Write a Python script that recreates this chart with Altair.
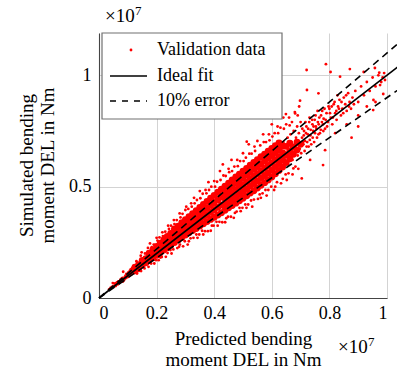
import altair as alt
import pandas as pd

# All values in units of 1e7 Nm (axes show the x10^7 multiplier)
x_ticks = [0, 0.2, 0.4, 0.6, 0.8, 1.0]
y_ticks = [0, 0.5, 1.0]
x_domain = [0, 1.0]
y_domain = [0, 1.19]

# dense core of the validation cloud: predicted value -> simulated values
core_band = {
    0.125: [0.124, 0.138],
    0.1375: [0.131, 0.150],
    0.150: [0.148, 0.168],
    0.1625: [0.158, 0.176],
    0.174: [0.170, 0.186, 0.201],
    0.187: [0.181, 0.199, 0.216],
    0.200: [0.192, 0.212, 0.231],
    0.2125: [0.203, 0.224, 0.246],
    0.225: [0.215, 0.238, 0.261],
    0.237: [0.226, 0.251, 0.276],
    0.249: [0.237, 0.264, 0.290],
    0.262: [0.249, 0.273, 0.297, 0.310],
    0.275: [0.261, 0.285, 0.306, 0.322],
    0.2875: [0.272, 0.296, 0.318, 0.338],
    0.300: [0.283, 0.306, 0.329, 0.351],
    0.3125: [0.293, 0.317, 0.341, 0.365],
    0.325: [0.303, 0.328, 0.353, 0.378],
    0.3375: [0.312, 0.339, 0.366, 0.392],
    0.350: [0.323, 0.351, 0.379, 0.406],
    0.3625: [0.333, 0.362, 0.391, 0.420],
    0.375: [0.343, 0.373, 0.403, 0.434],
    0.3875: [0.353, 0.385, 0.416, 0.448],
    0.400: [0.363, 0.396, 0.429, 0.461],
    0.4125: [0.373, 0.407, 0.441, 0.475],
    0.425: [0.383, 0.418, 0.453, 0.488],
    0.4375: [0.394, 0.420, 0.447, 0.474, 0.502],
    0.450: [0.405, 0.433, 0.461, 0.489, 0.516],
    0.4625: [0.415, 0.444, 0.473, 0.502, 0.530],
    0.475: [0.426, 0.455, 0.485, 0.515, 0.543],
    0.4875: [0.437, 0.466, 0.497, 0.527, 0.556],
    0.500: [0.448, 0.478, 0.509, 0.540, 0.569],
    0.5125: [0.459, 0.490, 0.521, 0.552, 0.582],
    0.525: [0.471, 0.503, 0.534, 0.565, 0.596],
    0.5375: [0.482, 0.514, 0.546, 0.578, 0.609],
    0.550: [0.494, 0.526, 0.558, 0.590, 0.621],
    0.5625: [0.506, 0.538, 0.570, 0.602, 0.634],
    0.575: [0.518, 0.550, 0.582, 0.615, 0.646],
    0.5875: [0.530, 0.562, 0.595, 0.627, 0.659],
    0.600: [0.543, 0.575, 0.607, 0.640, 0.671],
    0.6125: [0.558, 0.590, 0.621, 0.653, 0.684],
    0.625: [0.573, 0.604, 0.635, 0.666, 0.696],
    0.6375: [0.588, 0.620, 0.652, 0.684],
    0.650: [0.608, 0.642, 0.681],
    0.6625: [0.625, 0.660, 0.695],
    0.675: [0.645, 0.678],
    0.6875: [0.665, 0.700],
    0.700: [0.690],
}

# individually visible validation points (predicted, simulated)
low_points = [
    (0.035, 0.038), (0.040, 0.045), (0.045, 0.050), (0.048, 0.067), (0.050, 0.052),
    (0.055, 0.060), (0.056, 0.066), (0.058, 0.054), (0.060, 0.066), (0.062, 0.070),
    (0.065, 0.061), (0.067, 0.075), (0.070, 0.072), (0.072, 0.068), (0.075, 0.083),
    (0.077, 0.076), (0.079, 0.088), (0.080, 0.079), (0.082, 0.090), (0.083, 0.074),
    (0.084, 0.118), (0.085, 0.088), (0.087, 0.081), (0.090, 0.095), (0.090, 0.087),
    (0.092, 0.100), (0.094, 0.090), (0.095, 0.108), (0.097, 0.097), (0.100, 0.104),
    (0.100, 0.094), (0.102, 0.115), (0.104, 0.100), (0.105, 0.110), (0.107, 0.122),
    (0.108, 0.104), (0.110, 0.113), (0.110, 0.128), (0.112, 0.106), (0.113, 0.126),
    (0.114, 0.120), (0.115, 0.135), (0.117, 0.112), (0.118, 0.125), (0.120, 0.118),
    (0.120, 0.140), (0.122, 0.130), (0.124, 0.112),
]
fringe_points = [
    (0.130, 0.165), (0.132, 0.110), (0.145, 0.190), (0.146, 0.121), (0.148, 0.205),
    (0.160, 0.200), (0.158, 0.133), (0.170, 0.225), (0.172, 0.140), (0.177, 0.245),
    (0.181, 0.155), (0.183, 0.228), (0.190, 0.240), (0.192, 0.155), (0.200, 0.270),
    (0.198, 0.170), (0.203, 0.258), (0.210, 0.272), (0.207, 0.170), (0.213, 0.182),
    (0.220, 0.295), (0.222, 0.278), (0.218, 0.184), (0.230, 0.298), (0.232, 0.185),
    (0.240, 0.325), (0.243, 0.310), (0.238, 0.202), (0.250, 0.325), (0.252, 0.200),
    (0.248, 0.215), (0.260, 0.350), (0.262, 0.332), (0.258, 0.218), (0.270, 0.350),
    (0.272, 0.224), (0.280, 0.380), (0.283, 0.362), (0.278, 0.230), (0.281, 0.240),
    (0.290, 0.378), (0.292, 0.232), (0.300, 0.395), (0.303, 0.410), (0.298, 0.255),
    (0.310, 0.400), (0.312, 0.255), (0.308, 0.240), (0.320, 0.425), (0.322, 0.410),
    (0.318, 0.268), (0.330, 0.450), (0.332, 0.425), (0.328, 0.270), (0.340, 0.440),
    (0.342, 0.270), (0.338, 0.285), (0.350, 0.480), (0.352, 0.448), (0.348, 0.285),
    (0.360, 0.468), (0.362, 0.285), (0.358, 0.302), (0.370, 0.485), (0.373, 0.470),
    (0.368, 0.300), (0.380, 0.520), (0.382, 0.485), (0.378, 0.300), (0.390, 0.500),
    (0.392, 0.325), (0.388, 0.302), (0.400, 0.525), (0.403, 0.500), (0.398, 0.325),
    (0.410, 0.522), (0.412, 0.325), (0.408, 0.342), (0.420, 0.570), (0.422, 0.530),
    (0.418, 0.342), (0.430, 0.600), (0.432, 0.550), (0.428, 0.340), (0.440, 0.548),
    (0.442, 0.358), (0.438, 0.340), (0.450, 0.580), (0.452, 0.565), (0.448, 0.365),
    (0.460, 0.620), (0.462, 0.570), (0.458, 0.365), (0.470, 0.590), (0.472, 0.382),
    (0.468, 0.360), (0.480, 0.620), (0.482, 0.592), (0.478, 0.388), (0.490, 0.615),
    (0.492, 0.390), (0.488, 0.405), (0.500, 0.650), (0.502, 0.615), (0.498, 0.405),
    (0.510, 0.630), (0.512, 0.405), (0.508, 0.420), (0.513, 0.702), (0.520, 0.690),
    (0.522, 0.648), (0.518, 0.420), (0.530, 0.648), (0.532, 0.410), (0.528, 0.438),
    (0.540, 0.680), (0.542, 0.660), (0.538, 0.442), (0.550, 0.705), (0.552, 0.445),
    (0.560, 0.685), (0.562, 0.450), (0.558, 0.465), (0.570, 0.735), (0.572, 0.700),
    (0.568, 0.470), (0.580, 0.700), (0.582, 0.460), (0.578, 0.485), (0.590, 0.735),
    (0.592, 0.708), (0.588, 0.485), (0.600, 0.780), (0.602, 0.725), (0.598, 0.500),
    (0.610, 0.740), (0.612, 0.500), (0.608, 0.485), (0.620, 0.770), (0.622, 0.740),
    (0.618, 0.520), (0.630, 0.765), (0.632, 0.515), (0.640, 0.810), (0.642, 0.760),
    (0.638, 0.535), (0.649, 0.826), (0.650, 0.780), (0.652, 0.530), (0.648, 0.555),
    (0.660, 0.810), (0.662, 0.775), (0.658, 0.560), (0.670, 0.790), (0.672, 0.555),
    (0.681, 0.829), (0.680, 0.835), (0.682, 0.590), (0.690, 0.820), (0.692, 0.580),
    (0.698, 0.886), (0.695, 0.860), (0.675, 0.582), (0.704, 0.537),
]
taper_points = [
    (0.640, 0.700), (0.645, 0.620), (0.655, 0.720), (0.660, 0.640), (0.665, 0.735),
    (0.668, 0.700), (0.672, 0.620), (0.676, 0.750), (0.680, 0.660), (0.684, 0.720),
    (0.688, 0.770), (0.690, 0.640), (0.694, 0.740), (0.697, 0.670), (0.700, 0.790),
    (0.702, 0.650), (0.706, 0.760), (0.708, 0.700), (0.711, 0.730), (0.714, 0.660),
    (0.717, 0.790), (0.719, 0.740), (0.723, 0.700), (0.726, 0.760), (0.728, 0.680),
    (0.731, 0.810), (0.734, 0.730), (0.737, 0.690), (0.741, 0.780), (0.744, 0.750),
    (0.747, 0.700), (0.749, 0.800), (0.753, 0.770), (0.757, 0.720), (0.759, 0.840),
    (0.763, 0.780), (0.767, 0.740), (0.771, 0.820), (0.774, 0.790), (0.779, 0.750),
    (0.783, 0.850), (0.787, 0.800), (0.792, 0.770), (0.797, 0.860), (0.802, 0.830),
    (0.808, 0.860), (0.812, 0.810), (0.818, 0.880), (0.824, 0.840), (0.828, 0.910),
    (0.833, 0.850), (0.842, 0.880), (0.848, 0.830), (0.858, 0.910), (0.868, 0.860),
    (0.885, 0.870),
]
high_points = [
    (0.705, 0.720), (0.710, 0.690), (0.712, 0.750), (0.715, 0.705), (0.720, 0.770),
    (0.721, 0.680), (0.725, 0.735), (0.730, 0.790), (0.732, 0.710), (0.733, 0.620),
    (0.735, 0.755), (0.740, 0.800), (0.742, 0.720), (0.745, 0.770), (0.750, 0.740),
    (0.752, 0.820), (0.755, 0.760), (0.760, 0.790), (0.762, 0.735), (0.765, 0.810),
    (0.770, 0.755), (0.775, 0.840), (0.778, 0.780), (0.778, 0.597), (0.780, 0.805),
    (0.785, 0.760), (0.785, 0.664), (0.790, 0.830), (0.795, 0.790), (0.800, 0.850),
    (0.805, 0.810), (0.810, 0.780), (0.815, 0.870), (0.820, 0.830), (0.820, 0.740),
    (0.825, 0.800), (0.830, 0.860), (0.835, 0.890), (0.840, 0.820), (0.845, 0.850),
    (0.850, 0.900), (0.855, 0.870), (0.860, 0.840), (0.860, 0.780), (0.865, 0.920),
    (0.870, 0.880), (0.875, 0.850), (0.877, 0.720), (0.880, 0.900), (0.890, 0.930),
    (0.900, 0.880), (0.900, 0.770), (0.900, 0.820), (0.910, 0.950), (0.920, 0.910),
    (0.930, 0.970), (0.930, 0.860), (0.940, 0.930), (0.950, 0.990), (0.952, 0.844),
    (0.953, 0.889), (0.960, 0.950), (0.960, 0.880), (0.970, 1.000), (0.976, 0.956),
    (0.980, 0.970), (0.987, 0.916), (0.990, 1.010),
    (0.721, 1.024), (0.722, 0.934), (0.762, 0.919), (0.788, 1.050), (0.804, 1.015),
    (0.837, 0.994), (0.871, 1.028), (0.919, 1.015), (0.958, 1.033), (0.973, 1.012),
    (0.985, 0.990), (0.993, 0.979),
]

fit_x = [0.0, 1.05]
fit_ratios = {"Ideal fit": 1.0, "+10%": 1.1, "-10%": 0.9}

legend_labels = ["Validation data", "Ideal fit", "10% error"]

FONT = "Liberation Serif"
RED = "#ff0000"

core_df = pd.DataFrame(
    [(x, y) for x, ys in core_band.items() for y in ys], columns=["pred", "sim"]
)
pts_df = pd.DataFrame(
    low_points + fringe_points + taper_points + high_points, columns=["pred", "sim"]
)
lines_df = pd.DataFrame(
    [(x, r * x, name) for name, r in fit_ratios.items() for x in fit_x],
    columns=["pred", "sim", "series"],
)

x_enc = alt.X(
    "pred:Q",
    scale=alt.Scale(domain=x_domain, nice=False, zero=True),
    axis=alt.Axis(
        values=x_ticks, format="~g", title=["Predicted bending", "moment DEL in Nm"],
        titleX=144, titleY=31, titleBaseline="top", titleAlign="center",
        labelPadding=6, ticks=False,
    ),
)
y_enc = alt.Y(
    "sim:Q",
    scale=alt.Scale(domain=y_domain, nice=False, zero=True),
    axis=alt.Axis(
        values=y_ticks, format="~g", title=["Simulated bending", "moment DEL in Nm"],
        titleAngle=270, titleX=-82, titleY=132, titleBaseline="top",
        titleAlign="center", labelPadding=8, ticks=False,
    ),
)

core = alt.Chart(core_df).mark_circle(size=48, color=RED, opacity=1).encode(x=x_enc, y=y_enc)
pts = alt.Chart(pts_df).mark_circle(size=8, color=RED, opacity=1).encode(x=x_enc, y=y_enc)

ideal = (
    alt.Chart(lines_df[lines_df.series == "Ideal fit"])
    .mark_line(color="black", strokeWidth=1.6, clip=False)
    .encode(x=x_enc, y=y_enc)
)
err = (
    alt.Chart(lines_df[lines_df.series != "Ideal fit"])
    .mark_line(color="black", strokeWidth=1.6, strokeDash=[7, 5], clip=False)
    .encode(x=x_enc, y=y_enc, detail="series:N")
)

one = pd.DataFrame({"k": [0]})
box = alt.Chart(one).mark_rect(fill="white", stroke="#707070", strokeWidth=1.2).encode(
    x=alt.value(3), x2=alt.value(183), y=alt.value(0), y2=alt.value(86)
)
leg_dot = alt.Chart(one).mark_circle(size=8, color=RED, opacity=1).encode(
    x=alt.value(32), y=alt.value(17)
)
leg_solid = alt.Chart(one).mark_rule(color="black", strokeWidth=1.6).encode(
    x=alt.value(11), x2=alt.value(48), y=alt.value(43)
)
leg_dash = alt.Chart(one).mark_rule(color="black", strokeWidth=1.6, strokeDash=[6, 6]).encode(
    x=alt.value(11), x2=alt.value(48), y=alt.value(68)
)
leg_texts = [
    alt.Chart(one).mark_text(font=FONT, fontSize=18, align="left", baseline="middle", color="black")
    .encode(x=alt.value(58), y=alt.value(yy), text=alt.value(lab))
    for lab, yy in zip(legend_labels, [17, 43, 68])
]

def mult(x, y):
    t1 = alt.Chart(one).mark_text(font=FONT, fontSize=19, align="left", baseline="alphabetic", color="black").encode(
        x=alt.value(x), y=alt.value(y), text=alt.value("×10")
    )
    t2 = alt.Chart(one).mark_text(font=FONT, fontSize=13, align="left", baseline="alphabetic", color="black").encode(
        x=alt.value(x + 30), y=alt.value(y - 7), text=alt.value("7")
    )
    return [t1, t2]

chart = alt.layer(
    core, pts, ideal, err, box, leg_dot, leg_solid, leg_dash, *leg_texts,
    *mult(6, -11), *mult(239, 320),
).properties(
    width=288, height=265,
    autosize=alt.AutoSizeParams(type="none"),
    padding={"left": 99, "top": 33, "right": 10, "bottom": 73},
).configure_view(stroke=None).configure_axis(
    labelFont=FONT, labelFontSize=18, labelColor="black",
    titleFont=FONT, titleFontSize=19, titleFontWeight="normal", titleColor="black",
    titleLineHeight=21.5,
    domainColor="#444444", domainWidth=1.1,
    gridColor="#d3d3d3", gridWidth=1,
)

chart.save("out.html", embed_options={"renderer": "svg", "actions": False})
